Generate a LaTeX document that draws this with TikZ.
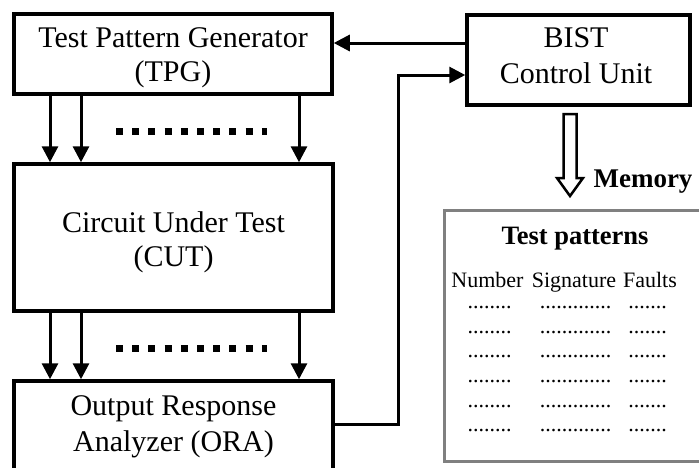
\documentclass[tikz,border=0pt]{standalone}
\usepackage{fontspec}
\setmainfont{Liberation Serif}
\usetikzlibrary{arrows.meta,calc}
\begin{document}
\begin{tikzpicture}[x=1pt,y=-1pt,
  blk/.style={draw=black,line width=3.5pt,inner sep=0pt},
  txt/.style={font=\fontsize{30}{35}\selectfont,anchor=base,inner sep=0pt},
  arr/.style={line width=3pt,-{Triangle[length=16pt,width=16pt]}},
  sq/.style={line width=7pt,dash pattern=on 7pt off 9.2pt},
  dotrow/.style={font=\fontsize{22}{22}\selectfont,anchor=base,inner sep=0pt},
  hdr/.style={font=\fontsize{22}{22}\selectfont,anchor=base,inner sep=0pt}]
\useasboundingbox (0,0) rectangle (699,467);
\clip (0,0) rectangle (699,467);
% boxes
\node[blk,minimum width=318pt,minimum height=80pt] (tpg) at (173,54) {};
\node[blk,minimum width=319pt,minimum height=147pt] (cut) at (173.5,237.5) {};
\node[blk,minimum width=319pt,minimum height=92pt] (ora) at (173.5,427) {};
\node[blk,minimum width=223pt,minimum height=90pt] (bist) at (578.5,60) {};
\node[draw=gray,line width=3pt,minimum width=266pt,minimum height=251pt,inner sep=0pt]
  (mem) at (577.5,336) {};
% box texts
\node[txt] (tpg1) at (173,47) {Test Pattern Generator};
\node[txt] (tpg2) at (173,81) {(TPG)};
\node[txt] (cut1) at (173.5,232) {Circuit Under Test};
\node[txt] (cut2) at (173.5,266) {(CUT)};
\node[txt] (ora1) at (173.5,415) {Output Response};
\node[txt] (ora2) at (173.5,451) {Analyzer (ORA)};
\node[txt] (bist1) at (576,47) {BIST};
\node[txt] (bist2) at (576,83) {Control Unit};
% column coordinates
\coordinate (c1) at (50,0);
\coordinate (c2) at (81,0);
\coordinate (c3) at (299,0);
\foreach \c in {c1,c2,c3}{
  \draw[arr] (tpg.south -| \c) -- (cut.north -| \c);
  \draw[arr] (cut.south -| \c) -- (ora.north -| \c);
}
% square dots
\draw[sq] (116,131) -- (267,131);
\draw[sq] (116,348) -- (267,348);
% BIST -> TPG
\coordinate (y1) at (0,43);
\draw[arr] (bist.west |- y1) -- (tpg.east |- y1);
% ORA -> BIST
\coordinate (y2) at (0,424);
\coordinate (y3) at (0,75);
\coordinate (xf) at (398,0);
\draw[arr] (ora.east |- y2) -| (xf |- y3) -- (bist.west |- y3);
% hollow arrow to memory
\draw[line width=2.5pt,line join=miter] (563.5,114) -- (576.5,114) -- (576.5,178) -- (583,178)
  -- (570,196) -- (557,178) -- (563.5,178) -- cycle;
\node[font=\fontsize{27}{27}\selectfont\bfseries,anchor=base,inner sep=0pt] (memlbl) at (643,187) {Memory};
% memory contents
\node[font=\fontsize{26.5}{26.5}\selectfont\bfseries,anchor=base,inner sep=0pt] (tp) at (575,244) {Test patterns};
\node[hdr] (hn) at (487.5,287) {Number};
\node[hdr] (hs) at (574,287) {Signature};
\node[hdr] (hf) at (650,287) {Faults};
\foreach \y in {308,333,357,382,407,431}{
  \node[dotrow] at (489.5,\y) {........};
  \node[dotrow] at (575.5,\y) {.............};
  \node[dotrow] at (647.5,\y) {.......};
}
\end{tikzpicture}
\end{document}
